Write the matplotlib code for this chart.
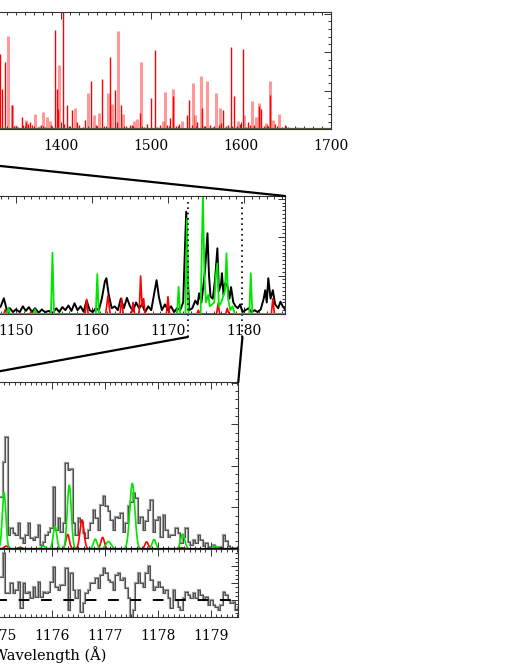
import numpy as np
import matplotlib.pyplot as plt
from matplotlib.ticker import MultipleLocator
from matplotlib.patches import ConnectionPatch
from matplotlib import transforms

plt.rcParams['font.family'] = 'DejaVu Serif'

# ---- panel 1: line list (sticks) ----
red_wl = [1332.6, 1334.4, 1337.7, 1345.5, 1356.6, 1361.1, 1365.5, 1392.9, 1395.1, 1396.3,
          1401.8, 1406.6, 1412.2, 1417.4, 1427.0, 1433.7, 1445.1, 1454.4, 1459.6, 1466.3,
          1476.6, 1487.7, 1500.0, 1504.0, 1521.1, 1524.0, 1540.0, 1542.6, 1556.6, 1580.3,
          1588.5, 1592.2, 1601.8, 1607.7, 1619.6, 1622.2, 1632.2, 1648.5,
          1348, 1352, 1358, 1363, 1368, 1374, 1378, 1382, 1389, 1403, 1409, 1420, 1424,
          1439, 1448, 1462, 1472, 1479, 1492, 1496, 1507, 1510, 1518, 1528, 1531, 1545,
          1551, 1559, 1566, 1569, 1575, 1578, 1583, 1586, 1595, 1599, 1605, 1610, 1614,
          1625, 1629, 1638, 1645, 1652]
red_h = [1.95, 1.04, 1.74, 0.62, 0.33, 0.20, 0.18, 2.58, 1.04, 0.52,
         3.10, 0.64, 0.50, 0.20, 0.24, 1.24, 1.30, 1.88, 1.01, 0.64,
         0.12, 0.41, 0.80, 2.06, 0.30, 0.87, 0.37, 0.76, 0.55, 0.50,
         2.13, 0.87, 2.07, 0.20, 0.60, 0.53, 0.90, 0.10,
         0.08, 0.05, 0.12, 0.15, 0.10, 0.07, 0.10, 0.06, 0.12, 0.15, 0.08, 0.10, 0.06,
         0.12, 0.09, 0.20, 0.08, 0.10, 0.07, 0.15, 0.06, 0.10, 0.12, 0.08, 0.14, 0.10,
         0.18, 0.08, 0.12, 0.07, 0.10, 0.16, 0.09, 0.12, 0.08, 0.15, 0.06, 0.10, 0.12,
         0.08, 0.10, 0.13, 0.06, 0.05]
pink_wl = [1331.5, 1341.1, 1345.5, 1350.0, 1361.1, 1371.1, 1376.6, 1380.3, 1384.0, 1387.7,
           1398.1, 1415.0, 1430.0, 1436.3, 1441.8, 1452.2, 1456.6, 1463.3, 1469.2, 1481.4,
           1484.8, 1489.2, 1513.7, 1515.5, 1524.8, 1534.4, 1547.0, 1548.9, 1555.9, 1562.2,
           1572.2, 1576.7, 1597.0, 1602.9, 1612.2, 1616.7, 1619.6, 1627.4, 1632.2, 1635.9,
           1642.6, 1655.5, 1661.8, 1669.2]
pink_h = [0.80, 2.42, 0.62, 0.10, 0.25, 0.40, 0.08, 0.45, 0.31, 0.21,
          1.66, 0.55, 0.93, 0.37, 0.43, 0.93, 0.66, 2.55, 0.40, 0.21,
          0.28, 1.75, 0.22, 0.98, 1.05, 0.22, 1.20, 0.37, 1.39, 1.24,
          0.93, 0.54, 0.22, 0.37, 0.73, 0.33, 0.67, 0.16, 1.25, 0.24,
          0.40, 0.03, 0.07, 0.03]

# ---- panel 2: spectrum 1147-1186 A ----
obs_wl = [1147.5, 1148.0, 1148.4, 1148.8, 1149.2, 1149.6, 1150.0, 1150.5, 1150.9, 1151.3,
          1151.7, 1152.1, 1152.5, 1153.0, 1153.4, 1153.8, 1154.3, 1154.8, 1155.3, 1155.7,
          1156.1, 1156.5, 1156.9, 1157.3, 1157.7, 1158.1, 1158.5, 1158.9, 1159.3, 1159.7,
          1160.1, 1160.5, 1160.9, 1161.3, 1161.7, 1161.9, 1162.2, 1162.6, 1163.0, 1163.4,
          1163.8, 1164.2, 1164.6, 1165.0, 1165.4, 1165.8, 1166.2, 1166.6, 1167.0, 1167.4,
          1167.8, 1168.2, 1168.5, 1168.8, 1169.2, 1169.6, 1170.0, 1170.4, 1170.8, 1171.2,
          1171.6, 1172.0, 1172.2, 1172.4, 1172.6, 1172.8, 1173.2, 1173.6, 1173.9, 1174.1,
          1174.4, 1174.7, 1174.9, 1175.2, 1175.4, 1175.6, 1175.9, 1176.2, 1176.5, 1176.7,
          1177.0, 1177.1, 1177.3, 1177.5, 1177.8, 1178.1, 1178.3, 1178.6, 1178.9, 1179.2,
          1179.5, 1179.8, 1180.2, 1180.6, 1181.0, 1181.4, 1181.8, 1182.2, 1182.6, 1182.8,
          1183.0, 1183.2, 1183.5, 1183.8, 1184.1, 1184.5, 1184.8, 1185.1, 1185.5]
obs_fl = [0.10, 0.20, 0.41, 0.10, 0.15, 0.05, 0.12, 0.05, 0.20, 0.08,
          0.18, 0.05, 0.15, 0.03, 0.12, 0.05, 0.08, 0.02, 0.15, 0.05,
          0.18, 0.10, 0.22, 0.08, 0.28, 0.10, 0.20, 0.06, 0.35, 0.10,
          0.05, 0.15, 0.10, 0.40, 0.85, 0.93, 0.50, 0.15, 0.20, 0.10,
          0.40, 0.15, 0.42, 0.20, 0.08, 0.30, 0.15, 0.25, 0.05, 0.20,
          0.10, 0.55, 0.88, 0.45, 0.10, 0.25, 0.10, 0.20, 0.05, 0.15,
          0.10, 0.30, 1.50, 2.66, 1.00, 0.10, 0.15, 0.35, 0.25, 0.54,
          0.30, 0.80, 1.20, 2.10, 1.00, 0.45, 0.40, 0.90, 1.71, 0.60,
          0.80, 1.06, 0.50, 0.80, 0.75, 0.40, 0.70, 0.30, 0.20, 0.15,
          0.25, 0.05, 0.10, 0.15, 0.05, 0.10, 0.05, 0.12, 0.40, 0.62,
          0.30, 0.93, 0.40, 0.62, 0.25, 0.15, 0.32, 0.20, 0.10]
mod1_wl = [1147.5, 1148.4, 1148.6, 1148.8, 1151.8, 1152.0, 1152.2, 1159.1, 1159.3, 1159.5,
           1161.8, 1162.1, 1162.4, 1163.7, 1163.9, 1164.1, 1165.2, 1165.4, 1165.6, 1166.2,
           1166.4, 1166.6, 1166.8, 1167.0, 1169.8, 1170.0, 1170.2, 1173.8, 1174.0, 1174.2,
           1176.4, 1176.6, 1176.8, 1177.6, 1177.8, 1178.0, 1183.6, 1183.8, 1184.0, 1185.5]
mod1_fl = [0.00, 0.00, 0.12, 0.00, 0.00, 0.05, 0.00, 0.00, 0.38, 0.00,
           0.00, 0.47, 0.00, 0.00, 0.41, 0.00, 0.00, 0.30, 0.00, 0.00,
           0.99, 0.20, 0.40, 0.00, 0.00, 0.45, 0.00, 0.00, 0.10, 0.00,
           0.00, 0.28, 0.00, 0.00, 0.15, 0.00, 0.00, 0.40, 0.00, 0.00]
mod2_wl = [1147.5, 1148.8, 1149.0, 1149.2, 1152.3, 1152.5, 1152.7, 1154.6, 1154.8, 1155.0,
           1160.5, 1160.7, 1160.9, 1171.2, 1171.4, 1171.6, 1172.3, 1172.5, 1172.7, 1174.3,
           1174.5, 1174.6, 1174.8, 1175.0, 1175.3, 1175.5, 1176.1, 1176.3, 1176.5, 1176.7,
           1177.0, 1177.5, 1177.7, 1177.9, 1178.2, 1178.5, 1178.8, 1180.7, 1180.9, 1181.1,
           1185.5]
mod2_fl = [0.00, 0.00, 0.17, 0.00, 0.00, 0.12, 0.00, 0.00, 1.59, 0.00,
           0.00, 1.04, 0.00, 0.00, 0.71, 0.00, 0.00, 2.48, 0.00, 0.00,
           2.20, 3.10, 1.00, 0.30, 0.50, 0.20, 0.30, 1.00, 1.32, 0.20,
           0.30, 0.60, 1.58, 0.40, 0.10, 0.20, 0.00, 0.00, 1.06, 0.00,
           0.00]
zoom_lo, zoom_hi = 1172.6, 1179.8

# ---- panel 3: binned data, line components, residual ----
bin_lo, bin_w = 1175.025, 0.04717
data_fl = [1.26, 2.10, 2.69, 0.34, 0.50, 0.38, 0.34, 0.62, 0.26, 0.14,
           0.34, 0.62, 0.26, 0.22, 0.30, 0.58, 0.10, 0.18, 0.34, 0.42,
           0.50, 1.50, 0.46, 0.74, 0.42, 0.62, 2.08, 1.90, 1.92, 0.62,
           0.34, 0.74, 0.66, 0.38, 0.26, 0.46, 0.62, 0.94, 0.74, 0.46,
           1.06, 1.28, 1.04, 0.92, 0.70, 0.46, 0.78, 0.74, 0.86, 0.42,
           0.62, 1.04, 1.14, 1.34, 1.22, 0.62, 0.78, 0.46, 0.68, 0.94,
           1.18, 0.42, 0.70, 0.78, 0.30, 0.82, 0.46, 0.30, 0.34, 0.34,
           0.50, 0.38, 0.14, 0.30, 0.50, 0.18, 0.10, 0.22, 0.14, 0.34,
           0.22, 0.07, 0.14, 0.04, 0.06, 0.10, 0.04, 0.04, 0.06, 0.34,
           0.20, 0.07, 0.02, 0.03, 0.02, 0.02]
resid = [2.37, 3.78, 1.39, 1.39, 1.98, 1.39, 1.59, 2.08, 0.51, 1.98,
         1.39, 1.49, 1.10, 1.78, 1.20, 2.08, 1.20, 1.49, 1.39, 1.49,
         2.08, 2.92, 1.78, 1.59, 1.88, 1.88, 2.86, 0.41, 2.57, 1.59,
         1.10, 1.59, 0.31, 0.80, 1.39, 1.59, 1.98, 1.98, 2.27, 1.69,
         2.47, 2.86, 2.57, 2.18, 2.08, 1.59, 2.47, 2.57, 2.18, 2.27,
         1.69, 1.10, -0.20, 0.41, 1.98, 2.57, 1.98, 1.78, 2.57, 3.00,
         2.18, 1.59, 1.78, 2.08, 1.78, 1.39, 1.59, 1.10, 0.51, 1.59,
         1.00, 0.61, 0.41, 1.10, 1.49, 1.29, 1.10, 1.39, 1.10, 1.59,
         1.29, 1.00, 1.20, 0.71, 1.00, 0.71, 0.61, 0.41, 0.71, 1.49,
         1.29, 1.00, 0.80, 0.90, 0.41, 0.60]
green_c = [1175.10, 1175.84, 1176.06, 1176.33, 1176.82, 1177.07, 1177.52, 1177.93, 1178.47, 1179.08]
green_a = [1.36, 0.07, 0.55, 1.54, 0.24, 0.18, 1.58, 0.23, 0.36, 0.07]
green_s = [0.034, 0.04, 0.034, 0.038, 0.035, 0.05, 0.048, 0.036, 0.04, 0.04]
red_c = [1175.14, 1175.40, 1176.30, 1176.57, 1176.96, 1177.79, 1178.45]
red_a = [0.07, 0.04, 0.35, 0.70, 0.28, 0.17, 0.03]
red_s = [0.04, 0.04, 0.033, 0.038, 0.033, 0.033, 0.04]

# tick labels (only those that fall on the page)
ticks1 = [1400, 1500, 1600, 1700]
ticks2 = [1150, 1160, 1170, 1180]
ticks3 = [1175, 1176, 1177, 1178, 1179]

GREEN = '#00e600'
W, H = 517, 664
fig = plt.figure(figsize=(W / 100, H / 100), dpi=100)


def place(l, t, r, b):
    return fig.add_axes([l / W, 1 - b / H, (r - l) / W, (b - t) / H])


def style(ax, xticks, xmin, ymaj, ymin, labels=True, pad=8):
    ax.set_xticks(xticks)
    ax.xaxis.set_minor_locator(MultipleLocator(xmin))
    ax.yaxis.set_major_locator(MultipleLocator(ymaj))
    ax.yaxis.set_minor_locator(MultipleLocator(ymin))
    ax.tick_params(which='both', direction='in', top=True, right=True, left=True,
                   labelleft=False, labelbottom=labels, labelsize=10, pad=pad,
                   color='#333333', width=0.7)
    ax.tick_params(which='major', length=5)
    ax.tick_params(which='minor', length=2.5)
    for s in ax.spines.values():
        s.set_linewidth(0.8)
        s.set_color('#333333')


ax1 = place(-209, 11.7, 331, 129.3)
ax2 = place(-212, 196, 285, 314)
ax3 = place(-139, 382, 238.3, 549)
ax4 = place(-139, 549, 238.3, 617)

# panel 1
ax1.vlines(pink_wl, 0, pink_h, color='red', alpha=0.4, lw=2.2)
ax1.vlines(red_wl, 0, red_h, color='red', lw=1.0)
ax1.axhline(0, color='#4f5f35', lw=1.6)
ax1.set_xlim(1100, 1700)
ax1.set_ylim(0, 3.05)
style(ax1, ticks1, 10, 1, 0.2, pad=7)

# panel 2
ax2.plot(obs_wl, obs_fl, color='black', lw=1.4)
ax2.plot(mod1_wl, mod1_fl, color='red', lw=1.2)
ax2.plot(mod2_wl, mod2_fl, color=GREEN, lw=1.3)
ax2.set_xlim(1120, 1185.4)
ax2.set_ylim(0, 3.07)
style(ax2, ticks2, 1, 1, 0.1, pad=7)
bt2 = transforms.blended_transform_factory(ax2.transData, ax2.transAxes)
for wl in (zoom_lo, zoom_hi):
    ax2.plot([wl, wl], [0.95, -0.195], transform=bt2, color='black', lw=1.2,
             ls=(0, (1, 2.2)), clip_on=False)

# panel 3
edges = np.linspace(bin_lo, bin_lo + bin_w * len(data_fl), len(data_fl) + 1)
ax3.stairs(data_fl, edges, baseline=None, color='0.6', lw=1.6)
ax3.stairs(data_fl, edges, baseline=None, color='0.2', lw=0.5)
wgrid = np.linspace(1172.4, 1179.52, 1500)
gmod = sum(a * np.exp(-0.5 * ((wgrid - c) / s) ** 2) for c, a, s in zip(green_c, green_a, green_s))
rmod = sum(a * np.exp(-0.5 * ((wgrid - c) / s) ** 2) for c, a, s in zip(red_c, red_a, red_s))
ax3.plot(wgrid, rmod, color='red', lw=1.2)
ax3.plot(wgrid, gmod, color=GREEN, lw=1.2)
ax3.axhline(0, color='black', lw=1.6)
ax3.set_xlim(1172.4, 1179.52)
ax3.set_ylim(0, 4.02)
style(ax3, ticks3, 0.1, 1, 0.2, labels=False)

# residual
ax4.stairs(resid, edges, baseline=None, color='0.6', lw=1.6)
ax4.stairs(resid, edges, baseline=None, color='0.2', lw=0.5)
ax4.axhline(1.0, color='black', lw=1.4, ls=(1.4, (5.5, 6)))
ax4.set_xlim(1172.4, 1179.52)
ax4.set_ylim(0, 4)
style(ax4, ticks3, 0.1, 1, 0.25, pad=9)
ax4.set_xlabel('Wavelength (Å)', fontsize=10.5, labelpad=2)

# zoom connectors
bt1 = transforms.blended_transform_factory(ax1.transData, ax1.transAxes)
bt3 = transforms.blended_transform_factory(ax3.transData, ax3.transAxes)
for xa, xb in ((1120, 0), (1185.4, 1)):
    fig.add_artist(ConnectionPatch(xyA=(xa, -0.193), coordsA=bt1, xyB=(xb, 1),
                                   coordsB=ax2.transAxes, color='black', lw=1.6))
fig.add_artist(ConnectionPatch(xyA=(zoom_lo, -0.195), coordsA=bt2, xyB=(1173.9, 1),
                               coordsB=bt3, color='black', lw=1.6))
fig.add_artist(ConnectionPatch(xyA=(zoom_hi, -0.195), coordsA=bt2, xyB=(1, 1),
                               coordsB=ax3.transAxes, color='black', lw=1.6))

fig.savefig('out.png', dpi=100)
